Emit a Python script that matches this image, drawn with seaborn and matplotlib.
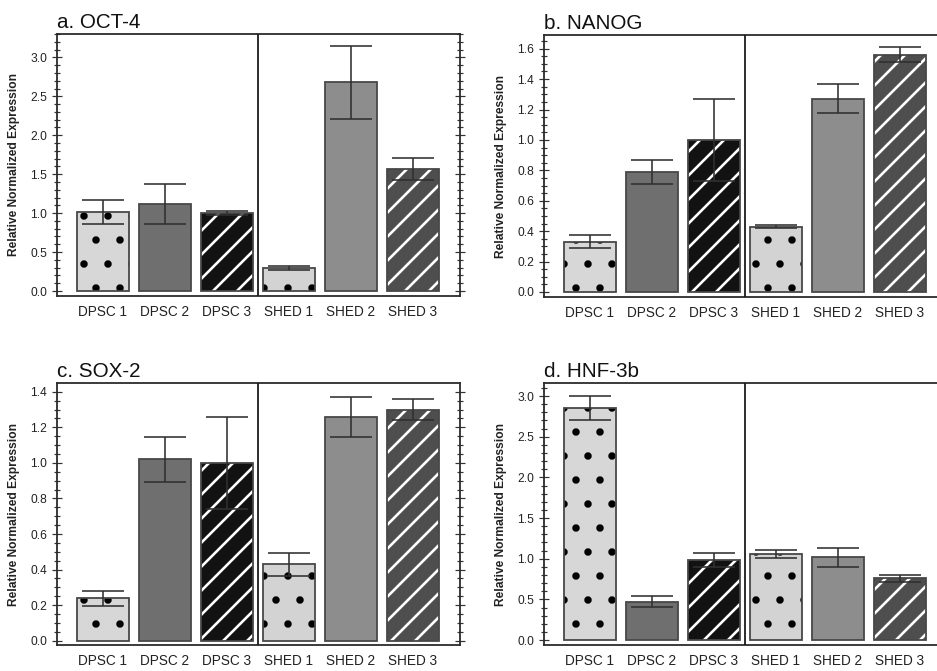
import numpy as np
import pandas as pd
import matplotlib
matplotlib.use("Agg")
import matplotlib.pyplot as plt
import seaborn as sns
from matplotlib.ticker import MultipleLocator

sns.set_theme(style="white")
plt.rcParams['font.family'] = ['Liberation Sans', 'DejaVu Sans']
plt.rcParams['hatch.linewidth'] = 1.3

# ---------------- data ----------------
samples = ["DPSC 1", "DPSC 2", "DPSC 3", "SHED 1", "SHED 2", "SHED 3"]

titles = ["a. OCT-4", "b. NANOG", "c. SOX-2", "d. HNF-3b"]

oct4 = [1.02, 1.12, 1.00, 0.30, 2.68, 1.57]
oct4_err = [0.155, 0.26, 0.03, 0.025, 0.465, 0.14]

nanog = [0.33, 0.79, 1.00, 0.43, 1.27, 1.56]
nanog_err = [0.043, 0.08, 0.267, 0.012, 0.095, 0.048]

sox2 = [0.24, 1.02, 1.00, 0.43, 1.26, 1.30]
sox2_err = [0.042, 0.127, 0.257, 0.065, 0.112, 0.06]

hnf3b = [2.85, 0.47, 0.99, 1.06, 1.02, 0.76]
hnf3b_err = [0.146, 0.067, 0.086, 0.05, 0.118, 0.045]

values = [oct4, nanog, sox2, hnf3b]
errors = [oct4_err, nanog_err, sox2_err, hnf3b_err]

ylims = [(-0.064, 3.30), (-0.033, 1.69), (-0.024, 1.449), (-0.06, 3.16)]
major_steps = [0.5, 0.2, 0.2, 0.5]
minor_steps = [0.1, 0.05, 0.05, 0.1]

# ---------------- style ----------------
fills = ['#d7d7d7', '#6f6f6f', '#121212', '#d3d3d3', '#8d8d8d', '#4e4e4e']
hatches = ['.', '', '//', '.', '', '//']
hatch_colors = ['#000000', None, '#ffffff', '#000000', None, '#ffffff']

W, H = 937, 671
DPI = 144
fig = plt.figure(figsize=(W / DPI, H / DPI), dpi=DPI)

# panel positions in pixels: (left, top)
panel_px = [(57, 34), (544, 35), (57, 383), (544, 383)]
aw, ah = 403, 262

for i in range(4):
    left, top = panel_px[i]
    ax = fig.add_axes([left / W, 1 - (top + ah) / H, aw / W, ah / H])
    df = pd.DataFrame({"sample": samples, "value": values[i]})

    sns.barplot(data=df, x="sample", y="value", hue="sample", palette=fills,
                order=samples, hue_order=samples, width=0.84, errorbar=None,
                legend=False, saturation=1, linewidth=0, ax=ax)
    bars = sorted(ax.patches, key=lambda p: p.get_x())
    for p, h, hc in zip(bars, hatches, hatch_colors):
        if h:
            p.set_hatch(h)
            p.set_edgecolor(hc)
        p.set_linewidth(0)

    # outlines
    sns.barplot(data=df, x="sample", y="value", hue="sample",
                palette=['#474747'] * len(samples), order=samples,
                hue_order=samples, width=0.84, errorbar=None, legend=False,
                fill=False, linewidth=0.9, ax=ax)

    x = np.arange(len(samples))
    ax.errorbar(x, values[i], yerr=errors[i], fmt='none', ecolor='#303030',
                elinewidth=0.8, capsize=10.5, capthick=0.8, zorder=6)

    ax.axvline(2.5, color='#1a1a1a', lw=0.9, zorder=7)

    ax.set_xlim(-0.74, 5.76)
    ax.set_ylim(*ylims[i])
    ax.yaxis.set_major_locator(MultipleLocator(major_steps[i]))
    ax.yaxis.set_minor_locator(MultipleLocator(minor_steps[i]))
    ax.yaxis.set_major_formatter(matplotlib.ticker.FormatStrFormatter('%.1f'))

    ax.tick_params(axis='y', which='both', direction='inout', left=True,
                   right=True, labelright=False, color='#333333', width=0.6)
    ax.tick_params(axis='y', which='major', length=5, pad=2.5,
                   labelsize=6, labelcolor='#222222')
    ax.tick_params(axis='y', which='minor', length=3)
    ax.tick_params(axis='x', length=0, pad=4.5, labelsize=6.8,
                   labelcolor='#222222')

    for s in ax.spines.values():
        s.set_color('#2a2a2a')
        s.set_linewidth(0.9)

    ax.set_xlabel('')
    ax.set_ylabel('Relative Normalized Expression', fontsize=6,
                  fontweight='bold', color='#222222')
    ax.yaxis.set_label_coords(-0.093, 0.5)
    ax.set_title(titles[i], loc='left', fontsize=10.3, pad=3, color='#111111')

fig.savefig("out.png", dpi=DPI, facecolor='white')
